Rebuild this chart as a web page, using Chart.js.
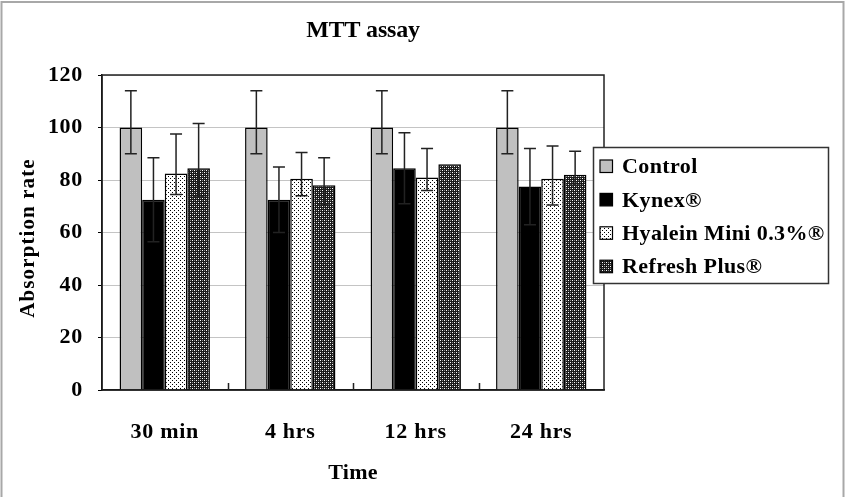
<!DOCTYPE html>
<html>
<head>
<meta charset="utf-8">
<script src="https://cdn.jsdelivr.net/npm/chart.js@4.4.1/dist/chart.umd.min.js"></script>
<style>
  html, body { margin: 0; padding: 0; background: #fff; }
</style>
</head>
<body>
<canvas id="chart" width="850" height="497"></canvas>
<script>
// data
var categories = ['30 min', '4 hrs', '12 hrs', '24 hrs'];
var seriesNames = ['Control', 'Kynex®', 'Hyalein Mini 0.3%®', 'Refresh Plus®'];

var control = [100, 100, 100, 100];
var controlErrUp = [14, 14, 14, 14];
var controlErrDown = [10, 10, 10, 10];

var kynex = [72.5, 72.5, 84.5, 77.5];
var kynexErrUp = [16, 12.5, 13.5, 14.5];
var kynexErrDown = [16, 12.5, 13.5, 14.5];

var hyalein = [82.5, 80.5, 81, 80.5];
var hyaleinErrUp = [15, 10, 11, 12.5];
var hyaleinErrDown = [8, 6.5, 5, 10];

var refresh = [84.5, 78, 86, 82];
var refreshErrUp = [17, 10.5, 0, 9];
var refreshErrDown = [11, 7.5, 0, 4];

var yTicks = [0, 20, 40, 60, 80, 100, 120];

var serif = '"Liberation Serif", "Times New Roman", serif';

function makePattern(bg, dots, size) {
  var c = document.createElement('canvas');
  c.width = size; c.height = size;
  var g = c.getContext('2d');
  g.fillStyle = bg;
  g.fillRect(0, 0, size, size);
  dots.forEach(function(d) {
    g.fillStyle = d[2];
    g.fillRect(d[0], d[1], 1, 1);
  });
  return g.createPattern(c, 'repeat');
}

var dotted = makePattern('#ffffff', [[0, 0, '#000'], [2, 2, '#000']], 4);
var darkGrid = makePattern('#1a1a1a', [[0, 0, '#fff'], [2, 2, '#fff'], [0, 2, '#888'], [2, 0, '#888']], 4);

var fills = ['#c0c0c0', '#000000', dotted, darkGrid];

var extras = {
  id: 'extras',
  beforeDraw: function(chart) {
    chart.ctx.letterSpacing = '0.7px';
  },
  afterDatasetsDraw: function(chart) {
    var ctx = chart.ctx, a = chart.chartArea, ys = chart.scales.y, xs = chart.scales.x;
    ctx.save();
    // error bars
    ctx.strokeStyle = '#222';
    ctx.lineWidth = 1.5;
    chart.data.datasets.forEach(function(ds, i) {
      var meta = chart.getDatasetMeta(i);
      meta.data.forEach(function(bar, j) {
        var up = ds.errUp[j], down = ds.errDown[j];
        if (!up && !down) return;
        var v = ds.data[j];
        var yt = ys.getPixelForValue(v + up), yb = ys.getPixelForValue(v - down);
        ctx.beginPath();
        ctx.moveTo(bar.x, yt); ctx.lineTo(bar.x, yb);
        ctx.moveTo(bar.x - 6, yt); ctx.lineTo(bar.x + 6, yt);
        ctx.moveTo(bar.x - 6, yb); ctx.lineTo(bar.x + 6, yb);
        ctx.stroke();
      });
    });
    // plot frame
    ctx.strokeStyle = '#222';
    ctx.lineWidth = 1.5;
    ctx.strokeRect(a.left, a.top, a.right - a.left, a.bottom - a.top);
    // small inner ticks between categories
    ctx.beginPath();
    for (var k = 1; k < categories.length; k++) {
      var bx = Math.round((xs.getPixelForTick(k - 1) + xs.getPixelForTick(k)) / 2) + 0.5;
      ctx.moveTo(bx, a.bottom); ctx.lineTo(bx, a.bottom - 7);
    }
    ctx.stroke();
    ctx.restore();
  },
  afterDraw: function(chart) {
    var ctx = chart.ctx;
    ctx.save();
    ctx.fillStyle = '#000';
    // title
    ctx.font = 'bold 24px ' + serif;
    ctx.letterSpacing = '-0.2px';
    ctx.textAlign = 'center';
    ctx.textBaseline = 'middle';
    ctx.fillText('MTT assay', 363, 31);
    // x title
    ctx.font = 'bold 22px ' + serif;
    ctx.letterSpacing = '0.3px';
    ctx.fillText('Time', 353, 473);
    // y title
    ctx.save();
    ctx.translate(29, 238);
    ctx.rotate(-Math.PI / 2);
    ctx.font = 'bold 21px ' + serif;
    ctx.letterSpacing = '1.1px';
    ctx.fillText('Absorption rate', 0, 0);
    ctx.restore();
    // legend
    ctx.fillStyle = '#fff';
    ctx.fillRect(593.5, 147.5, 235, 136);
    ctx.strokeStyle = '#333';
    ctx.lineWidth = 1.5;
    ctx.strokeRect(593.5, 147.5, 235, 136);
    ctx.font = 'bold 22px ' + serif;
    ctx.letterSpacing = '0.4px';
    ctx.textAlign = 'left';
    chart.data.datasets.forEach(function(ds, i) {
      var cy = 166.5 + i * 33.4;
      ctx.fillStyle = ds.backgroundColor;
      ctx.fillRect(600, cy - 6.5, 12.5, 12.5);
      ctx.strokeStyle = '#000';
      ctx.lineWidth = 1.2;
      ctx.strokeRect(600, cy - 6.5, 12.5, 12.5);
      ctx.fillStyle = '#000';
      ctx.fillText(ds.label, 622, cy + 1);
    });
    // outer frame
    ctx.strokeStyle = '#a8a8a8';
    ctx.lineWidth = 2;
    ctx.strokeRect(1.5, 2, 842, 520);
    ctx.restore();
  }
};

var values = [control, kynex, hyalein, refresh];
var errUps = [controlErrUp, kynexErrUp, hyaleinErrUp, refreshErrUp];
var errDowns = [controlErrDown, kynexErrDown, hyaleinErrDown, refreshErrDown];

var datasets = seriesNames.map(function(name, i) {
  return {
    label: name,
    data: values[i],
    errUp: errUps[i],
    errDown: errDowns[i],
    backgroundColor: fills[i],
    borderColor: '#000',
    borderWidth: 1.5,
    categoryPercentage: 0.72,
    barPercentage: 1.0
  };
});

new Chart(document.getElementById('chart'), {
  type: 'bar',
  data: { labels: categories, datasets: datasets },
  plugins: [extras],
  options: {
    responsive: false,
    animation: false,
    layout: { padding: { top: 75, right: 246, left: 12, bottom: 0 } },
    plugins: {
      legend: { display: false },
      title: { display: false },
      tooltip: { enabled: false }
    },
    scales: {
      x: {
        grid: { display: false, drawTicks: false },
        border: { display: true, color: '#000', width: 1.5 },
        ticks: {
          color: '#000',
          padding: 29,
          font: { family: serif, size: 22, weight: 'bold' }
        },
        afterFit: function(scale) { scale.height = 107; }
      },
      y: {
        min: 0,
        max: 120,
        afterBuildTicks: function(scale) {
          scale.ticks = yTicks.map(function(v) { return { value: v }; });
        },
        grid: { color: '#c4c4c4', lineWidth: 1, tickLength: 4, tickColor: '#000' },
        border: { display: true, color: '#000', width: 1.5 },
        ticks: {
          color: '#000',
          padding: 15,
          font: { family: serif, size: 22, weight: 'bold' }
        },
        afterFit: function(scale) { scale.width = 90; }
      }
    }
  }
});
</script>
</body>
</html>
